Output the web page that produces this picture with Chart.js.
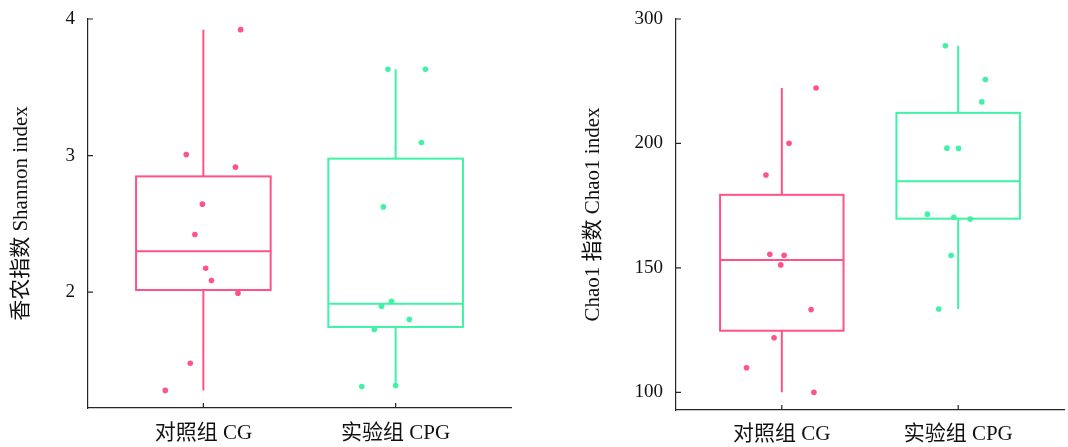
<!DOCTYPE html>
<html>
<head>
<meta charset="utf-8">
<script src="https://cdn.jsdelivr.net/npm/chart.js@4.4.1/dist/chart.umd.min.js"></script>
<style>
body{margin:0;background:#fff;}
#wrap{display:flex;width:1068px;height:447px;}
canvas{display:block;}
</style>
</head>
<body>
<div id="wrap">
<canvas id="shannon" width="534" height="447"></canvas>
<canvas id="chao1" width="534" height="447"></canvas>
</div>
<script>
// groups on the x axis
const groups = ['对照组 CG', '实验组 CPG'];

// Shannon index, one value per sample
const shannonCG = [3.922, 3.007, 2.915, 2.644, 2.422, 2.175, 2.085, 1.992, 1.479, 1.280];
const shannonCPG = [3.632, 3.632, 3.095, 2.624, 1.933, 1.897, 1.800, 1.726, 1.316, 1.309];
const shannonJitterCG = [0.194, -0.089, 0.167, -0.005, -0.044, 0.012, 0.042, 0.180, -0.068, -0.198];
const shannonJitterCPG = [-0.040, 0.155, 0.134, -0.064, -0.022, -0.073, 0.071, -0.111, 0.0, -0.176];
const shannonTicks = [2, 3, 4];

// Chao1 index
const chao1CG = [244.6, 200.2, 187.3, 155.5, 155.1, 151.2, 133.3, 121.9, 109.9, 100.0];
const chao1CPG = [278.5, 251.4, 233.4, 198.1, 198.0, 171.6, 170.3, 169.6, 155.0, 133.5];
const chao1JitterCG = [0.194, 0.041, -0.090, -0.068, 0.013, -0.006, 0.166, -0.044, -0.200, 0.182];
const chao1JitterCPG = [-0.073, 0.154, 0.134, -0.064, 0.002, -0.175, -0.025, 0.068, -0.040, -0.110];
const chao1Ticks = [100, 150, 200, 300];

const FONT = "'Liberation Serif', 'Noto Sans CJK SC', serif";
const colors = ['#ff5287', '#3ff2a5'];
const axisColor = '#262626';

// the Chao1 axis in the picture squeezes 200-300 into the room of 50 units
class BrokenScale extends Chart.LinearScale {
  static id = 'broken';
  static defaults = {};
  fwd(v) { return v > 200 ? 200 + (v - 200) / 2 : v; }
  inv(p) { return p > 200 ? 200 + (p - 200) * 2 : p; }
  determineDataLimits() {
    super.determineDataLimits();
    this.min = this.fwd(this.min);
    this.max = this.fwd(this.max);
  }
  buildTicks() {
    return chao1Ticks.map(v => ({value: v}));
  }
  getPixelForValue(v) { return super.getPixelForValue(this.fwd(v)); }
  getValueForPixel(p) { return this.inv(super.getValueForPixel(p)); }
}
Chart.register(BrokenScale);

function quantile(sorted, p) {
  let pos = (sorted.length - 1) * p;
  let lo = Math.floor(pos);
  let hi = Math.ceil(pos);
  return sorted[lo] + (sorted[hi] - sorted[lo]) * (pos - lo);
}

function boxStats(values) {
  let s = values.slice().sort((a, b) => a - b);
  let q1 = quantile(s, 0.25);
  let med = quantile(s, 0.5);
  let q3 = quantile(s, 0.75);
  let iqr = q3 - q1;
  let inside = s.filter(v => v >= q1 - 1.5 * iqr && v <= q3 + 1.5 * iqr);
  return {q1: q1, med: med, q3: q3, lo: inside[0], hi: inside[inside.length - 1]};
}

const boxPlugin = {
  id: 'boxes',
  beforeDatasetsDraw(chart) {
    let ctx = chart.ctx;
    let x = chart.scales.x;
    let y = chart.scales.y;
    chart.data.datasets.forEach((ds, i) => {
      let st = boxStats(ds.data.map(p => p.y));
      let cx = x.getPixelForValue(i + 1);
      let x0 = x.getPixelForValue(i + 1 - 0.35);
      let x1 = x.getPixelForValue(i + 1 + 0.35);
      let yq1 = y.getPixelForValue(st.q1);
      let yq3 = y.getPixelForValue(st.q3);
      let ym = y.getPixelForValue(st.med);
      ctx.save();
      ctx.strokeStyle = ds.backgroundColor;
      ctx.lineWidth = 2;
      ctx.beginPath();
      ctx.moveTo(cx, y.getPixelForValue(st.hi));
      ctx.lineTo(cx, yq3);
      ctx.moveTo(cx, yq1);
      ctx.lineTo(cx, y.getPixelForValue(st.lo));
      ctx.moveTo(x0, ym);
      ctx.lineTo(x1, ym);
      ctx.stroke();
      ctx.strokeRect(x0, yq3, x1 - x0, yq1 - yq3);
      ctx.restore();
    });
  },
  afterDraw(chart) {
    // short ticks pointing into the plot
    let ctx = chart.ctx;
    let x = chart.scales.x;
    let y = chart.scales.y;
    let a = chart.chartArea;
    ctx.save();
    ctx.strokeStyle = axisColor;
    ctx.lineWidth = 1.2;
    ctx.beginPath();
    y.ticks.forEach((t, i) => {
      let py = y.getPixelForTick(i);
      ctx.moveTo(a.left, py);
      ctx.lineTo(a.left + 5, py);
    });
    x.ticks.forEach((t, i) => {
      let px = x.getPixelForTick(i);
      ctx.moveTo(px, a.bottom);
      ctx.lineTo(px, a.bottom - 5);
    });
    ctx.stroke();
    ctx.restore();
  }
};

function makeChart(id, cfg) {
  let datasets = cfg.values.map((vals, g) => ({
    data: vals.map((v, k) => ({x: g + 1 + cfg.jitter[g][k], y: v})),
    backgroundColor: colors[g],
    borderWidth: 0,
    pointRadius: 2.8
  }));
  return new Chart(document.getElementById(id), {
    type: 'scatter',
    data: {datasets: datasets},
    plugins: [boxPlugin],
    options: {
      responsive: false,
      animation: false,
      layout: {padding: {top: 19, right: cfg.rightPad, left: 0, bottom: 0}},
      plugins: {legend: {display: false}, tooltip: {enabled: false}},
      scales: {
        x: {
          type: 'linear',
          min: 0.4,
          max: 2.6,
          afterBuildTicks: s => { s.ticks = groups.map((g, i) => ({value: i + 1})); },
          afterFit: s => { s.height = cfg.bottomH; },
          grid: {display: false, drawTicks: false},
          border: {display: true, color: axisColor, width: 1.2},
          ticks: {
            padding: cfg.xLabelPad,
            color: '#111',
            font: {family: FONT, size: 21},
            callback: v => groups[v - 1]
          }
        },
        y: {
          type: cfg.yType,
          min: cfg.yMin,
          max: cfg.yMax,
          afterBuildTicks: s => { s.ticks = cfg.yTicks.map(v => ({value: v})); },
          afterFit: s => {
            s.width = cfg.leftW;
            s.paddingTop = 0;
            s.paddingBottom = 0;
          },
          grid: {display: false, drawTicks: false},
          border: {display: true, color: axisColor, width: 1.2},
          ticks: {padding: 13, color: '#111', font: {family: FONT, size: 19}},
          title: {
            display: true,
            text: cfg.title,
            color: '#111',
            font: {family: FONT, size: 21},
            padding: {top: cfg.titlePad, bottom: 0}
          }
        }
      }
    }
  });
}

makeChart('shannon', {
  values: [shannonCG, shannonCPG],
  jitter: [shannonJitterCG, shannonJitterCPG],
  yTicks: shannonTicks,
  yType: 'linear',
  yMin: 1.151,
  yMax: 4,
  title: '香农指数 Shannon index',
  leftW: 88,
  bottomH: 39,
  rightPad: 23,
  xLabelPad: 13,
  titlePad: 9
});

makeChart('chao1', {
  values: [chao1CG, chao1CPG],
  jitter: [chao1JitterCG, chao1JitterCPG],
  yTicks: chao1Ticks,
  yType: 'broken',
  yMin: 92.9,
  yMax: 300,
  title: 'Chao1 指数 Chao1 index',
  leftW: 142,
  bottomH: 37,
  rightPad: 3,
  xLabelPad: 12,
  titlePad: 47
});
</script>
</body>
</html>
